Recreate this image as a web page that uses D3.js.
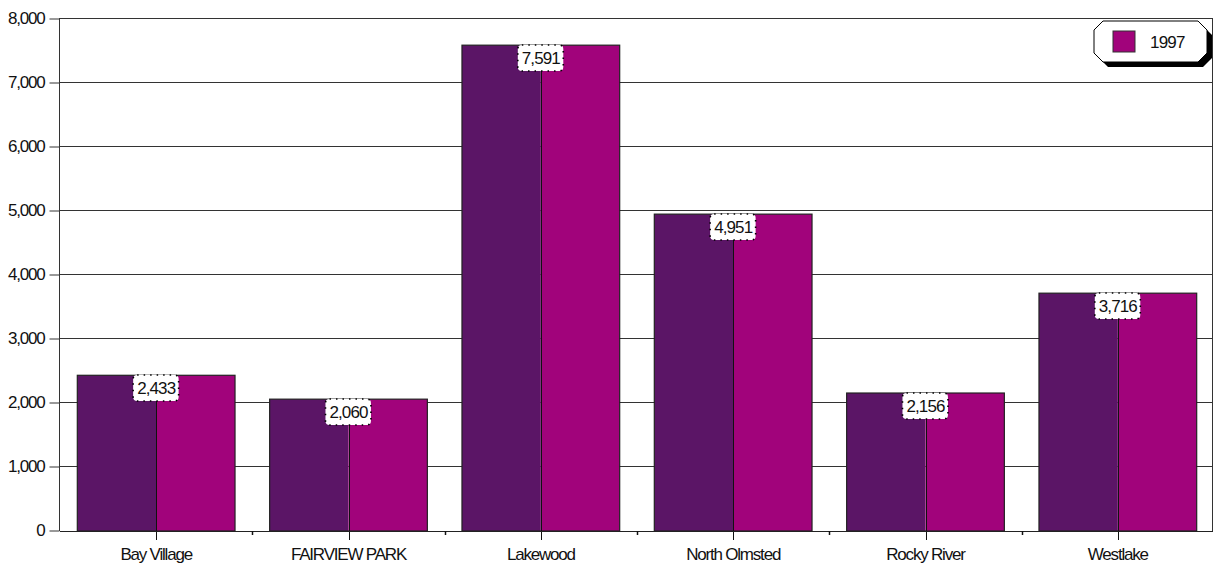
<!DOCTYPE html>
<html>
<head>
<meta charset="utf-8">
<script src="https://cdn.jsdelivr.net/npm/d3@7"></script>
<style>
  body { margin: 0; background: #fff; }
  text { font-family: "Liberation Sans", Arial, sans-serif; fill: #111; }
</style>
</head>
<body>
<script>
// chart data
var cities = ["Bay Village", "FAIRVIEW PARK", "Lakewood", "North Olmsted", "Rocky River", "Westlake"];
var values1997 = [2433, 2060, 7591, 4951, 2156, 3716];
var yTicks = [0, 1000, 2000, 3000, 4000, 5000, 6000, 7000, 8000];
var seriesName = "1997";

var widthSvg = 1214, heightSvg = 565;
var plotLeft = 60, plotRight = 1214, plotTop = 19, plotBottom = 531;

var svg = d3.select("body").append("svg")
  .attr("width", widthSvg)
  .attr("height", heightSvg);

var x = d3.scaleBand().domain(cities).range([plotLeft, plotRight]).paddingInner(0.18).paddingOuter(0.09);
var y = d3.scaleLinear().domain([0, 8000]).range([plotBottom, plotTop]);

// gridlines
svg.append("g").selectAll("line")
  .data(yTicks.slice(1))
  .enter().append("line")
  .attr("x1", plotLeft).attr("x2", plotRight - 1)
  .attr("y1", function(d) { return Math.round(y(d)) - 0.5; })
  .attr("y2", function(d) { return Math.round(y(d)) - 0.5; })
  .attr("stroke", "#333").attr("stroke-width", 1);

// right border
svg.append("line")
  .attr("x1", plotRight - 1.5).attr("x2", plotRight - 1.5)
  .attr("y1", plotTop).attr("y2", plotBottom)
  .attr("stroke", "#333");

// y axis
var yAxis = d3.axisLeft(y).tickValues(yTicks).tickSize(10).tickPadding(5)
  .tickFormat(d3.format(","));
var gy = svg.append("g").attr("transform", "translate(" + (plotLeft - 0.5) + ",-0.5)").call(yAxis);
gy.select(".domain").attr("stroke", "#333").attr("d", "M0," + (plotTop - 0.5) + "V" + (plotBottom + 0.5));
gy.selectAll(".tick line").attr("stroke", "#333");
gy.selectAll(".tick text")
  .style("font-family", "Liberation Sans, Arial, sans-serif")
  .style("font-size", "17px").style("letter-spacing", "-1.2px").attr("fill", "#111");

// bars: dark left half, magenta right half
var bars = svg.append("g").selectAll("g")
  .data(cities)
  .enter().append("g");

bars.append("rect")
  .attr("x", function(d) { return x(d); })
  .attr("y", function(d, i) { return y(values1997[i]); })
  .attr("width", x.bandwidth() / 2)
  .attr("height", function(d, i) { return y(0) - y(values1997[i]); })
  .attr("fill", "#5b1566");

bars.append("rect")
  .attr("x", function(d) { return x(d) + x.bandwidth() / 2; })
  .attr("y", function(d, i) { return y(values1997[i]); })
  .attr("width", x.bandwidth() / 2)
  .attr("height", function(d, i) { return y(0) - y(values1997[i]); })
  .attr("fill", "#a1037b");

bars.append("rect")
  .attr("x", function(d) { return x(d); })
  .attr("y", function(d, i) { return y(values1997[i]); })
  .attr("width", x.bandwidth())
  .attr("height", function(d, i) { return y(0) - y(values1997[i]); })
  .attr("fill", "none").attr("stroke", "#222").attr("stroke-width", 1.2);

// middle line, going down below the axis as a tick
bars.append("line")
  .attr("x1", function(d) { return Math.round(x(d) + x.bandwidth() / 2) + 0.5; })
  .attr("x2", function(d) { return Math.round(x(d) + x.bandwidth() / 2) + 0.5; })
  .attr("y1", function(d, i) { return y(values1997[i]); })
  .attr("y2", plotBottom + 9)
  .attr("stroke", "#111");

// x axis line
svg.append("line")
  .attr("x1", plotLeft).attr("x2", plotRight - 1)
  .attr("y1", plotBottom + 0.5).attr("y2", plotBottom + 0.5)
  .attr("stroke", "#222");

// small boundary ticks
svg.append("g").selectAll("line")
  .data(cities.slice(1))
  .enter().append("line")
  .attr("x1", function(d) { return Math.round(x(d) - x.step() * 0.09) + 0.5; })
  .attr("x2", function(d) { return Math.round(x(d) - x.step() * 0.09) + 0.5; })
  .attr("y1", plotBottom).attr("y2", plotBottom + 4)
  .attr("stroke", "#111").attr("stroke-width", 1.5);

// category labels
svg.append("g").selectAll("text")
  .data(cities)
  .enter().append("text")
  .attr("x", function(d) { return x(d) + x.bandwidth() / 2; })
  .attr("y", 560)
  .attr("text-anchor", "middle")
  .style("font-size", "17px").style("letter-spacing", "-1.2px")
  .text(function(d) { return d; });

// value labels with dotted boxes
var labels = svg.append("g").selectAll("g")
  .data(cities)
  .enter().append("g")
  .attr("transform", function(d, i) {
    return "translate(" + (x(d) + x.bandwidth() / 2) + "," + Math.round(y(values1997[i])) + ")";
  });

labels.append("text")
  .attr("x", 0).attr("y", 19)
  .attr("text-anchor", "middle")
  .style("font-size", "17px").style("letter-spacing", "-0.9px")
  .text(function(d, i) { return d3.format(",")(values1997[i]); });

labels.each(function() {
  var g = d3.select(this);
  var bb = g.select("text").node().getBBox();
  g.insert("rect", "text")
    .attr("x", bb.x - 4).attr("y", 0)
    .attr("width", bb.width + 7).attr("height", 26)
    .attr("rx", 4)
    .attr("fill", "#fff")
    .attr("stroke", "#000").attr("stroke-width", 1.6)
    .attr("stroke-dasharray", "1.5,5");
});

// legend
var lg = svg.append("g").attr("transform", "translate(1094,21)");
var lw = 113, lh = 41, c = 9;
function octagon(ox, oy) {
  return "M" + (ox + c) + "," + oy + "H" + (ox + lw - c) + "L" + (ox + lw) + "," + (oy + c) +
    "V" + (oy + lh - c) + "L" + (ox + lw - c) + "," + (oy + lh) + "H" + (ox + c) +
    "L" + ox + "," + (oy + lh - c) + "V" + (oy + c) + "Z";
}
lg.append("path").attr("d", octagon(5, 5)).attr("fill", "#000");
lg.append("path").attr("d", octagon(0, 0)).attr("fill", "#fff").attr("stroke", "#000").attr("stroke-width", 1);
lg.append("rect")
  .attr("x", 19).attr("y", 10).attr("width", 22).attr("height", 21)
  .attr("fill", "#a1037b").attr("stroke", "#333");
lg.append("text")
  .attr("x", 56).attr("y", 27)
  .style("font-size", "17px").style("letter-spacing", "-0.8px")
  .text(seriesName);
</script>
</body>
</html>
